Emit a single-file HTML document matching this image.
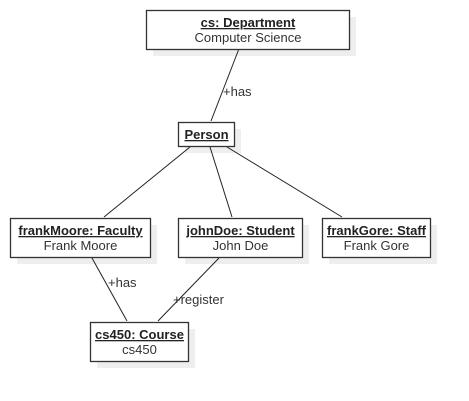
<!DOCTYPE html>
<html><head><meta charset="utf-8"><style>
html,body{margin:0;padding:0;background:#fff;}
svg{display:block;font-family:"Liberation Sans",Arial,sans-serif;}
.t{font-size:13px;font-weight:bold;fill:#222;text-decoration:underline;}
.s{font-size:13px;fill:#333;}
.l{font-size:13px;fill:#333;}
</style></head><body>
<svg width="469" height="401" viewBox="0 0 469 401">
<g fill="#eeeeee">
<rect x="153" y="17" width="203" height="39"/>
<rect x="185" y="129" width="56" height="24"/>
<rect x="17" y="225" width="140" height="39"/>
<rect x="185" y="225" width="124" height="39"/>
<rect x="329" y="225" width="108" height="39"/>
<rect x="97" y="329" width="98" height="39"/>
</g>
<g stroke="#222" stroke-width="1" fill="none">
<line x1="238.5" y1="50" x2="211" y2="121"/>
<line x1="190" y1="147" x2="104" y2="217"/>
<line x1="210" y1="147" x2="232" y2="217"/>
<line x1="227" y1="147" x2="342" y2="217"/>
<line x1="92" y1="258" x2="127" y2="321"/>
<line x1="219" y1="258" x2="158" y2="321"/>
</g>
<g fill="#fff" stroke="#333" stroke-width="1.3">
<rect x="146.5" y="10.5" width="203" height="39"/>
<rect x="178.5" y="122.5" width="56" height="24"/>
<rect x="10.5" y="218.5" width="140" height="39"/>
<rect x="178.5" y="218.5" width="124" height="39"/>
<rect x="322.5" y="218.5" width="108" height="39"/>
<rect x="90.5" y="322.5" width="98" height="39"/>
</g>
<g text-anchor="middle">
<text class="t" x="248" y="27">cs: Department</text>
<text class="s" x="248" y="42">Computer Science</text>
<text class="t" x="206.5" y="139">Person</text>
<text class="t" x="80.5" y="235">frankMoore: Faculty</text>
<text class="s" x="80.5" y="250">Frank Moore</text>
<text class="t" x="240.5" y="235">johnDoe: Student</text>
<text class="s" x="240.5" y="250">John Doe</text>
<text class="t" x="376.5" y="235">frankGore: Staff</text>
<text class="s" x="376.5" y="250">Frank Gore</text>
<text class="t" x="139.5" y="339">cs450: Course</text>
<text class="s" x="139.5" y="354">cs450</text>
</g>
<text class="l" x="223" y="96">+has</text>
<text class="l" x="108" y="287">+has</text>
<text class="l" x="173" y="304">+register</text>
</svg>
</body></html>
